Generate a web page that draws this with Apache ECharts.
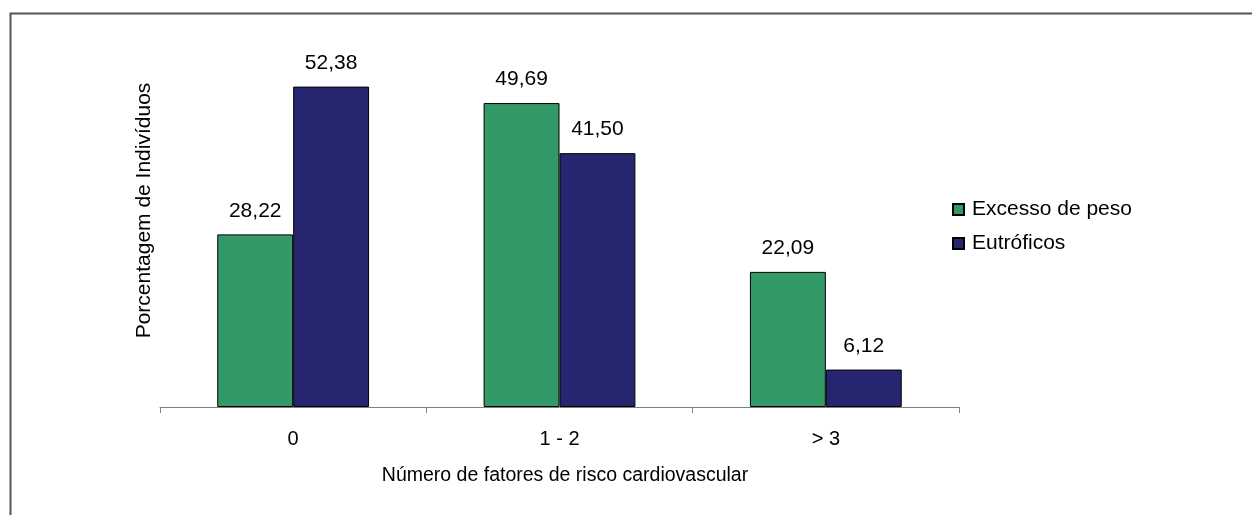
<!DOCTYPE html>
<html>
<head>
<meta charset="utf-8">
<script src="https://cdn.jsdelivr.net/npm/echarts@6/dist/echarts.min.js"></script>
<style>
  html, body { margin: 0; padding: 0; background: #fff; }
  #chart { width: 1252px; height: 515px; }
</style>
</head>
<body>
<div id="chart"></div>
<script>
// Categories and series values
const categories = ['0', '1 - 2', '> 3'];
const excessoPeso = [28.22, 49.69, 22.09];
const eutroficos = [52.38, 41.50, 6.12];
const seriesNames = ['Excesso de peso', 'Eutróficos'];

const FONT = 'Liberation Sans, Arial, sans-serif';
const fmt = p => p.value.toFixed(2).replace('.', ',');

const chart = echarts.init(document.getElementById('chart'));

const barLabel = {
  show: true,
  position: 'top',
  distance: 13,
  color: '#000',
  fontFamily: FONT,
  fontSize: 21,
  formatter: fmt
};

chart.setOption({
  backgroundColor: '#fff',
  animation: false,
  graphic: [{
    type: 'rect',
    left: 8, top: 11,
    shape: { width: 1300, height: 600 },
    style: { fill: 'none', stroke: '#555', lineWidth: 2 },
    z: -1
  }],
  legend: {
    orient: 'vertical',
    left: 947,
    top: 194,
    itemWidth: 11,
    itemHeight: 11,
    itemGap: 13,
    icon: 'rect',
    textStyle: { fontFamily: FONT, fontSize: 21, color: '#000', padding: [0, 0, 0, 3] },
    data: seriesNames
  },
  grid: { left: 160, right: 293, top: 40, bottom: 108 },
  xAxis: {
    type: 'category',
    data: categories,
    axisLine: { lineStyle: { color: '#808080', width: 1 } },
    axisTick: { show: true, length: 6, alignWithLabel: false, lineStyle: { color: '#808080' } },
    axisLabel: { color: '#000', fontFamily: FONT, fontSize: 20, margin: 22 },
    name: 'Número de fatores de risco cardiovascular',
    nameLocation: 'middle',
    nameGap: 59,
    nameTextStyle: { color: '#000', fontFamily: FONT, fontSize: 19.5, padding: [0, 0, 0, 11] }
  },
  yAxis: {
    type: 'value',
    min: 0,
    max: 60,
    axisLine: { show: false },
    axisTick: { show: false },
    axisLabel: { show: false },
    splitLine: { show: false },
    name: 'Porcentagem de Indivíduos',
    nameLocation: 'middle',
    nameGap: 5,
    nameTextStyle: { color: '#000', fontFamily: FONT, fontSize: 21, padding: [0, 0, 0, 26] }
  },
  series: [
    {
      name: seriesNames[0],
      type: 'bar',
      data: excessoPeso,
      barGap: '0%',
      barCategoryGap: '43%',
      itemStyle: { color: '#339966', borderColor: '#000', borderWidth: 1 },
      label: barLabel
    },
    {
      name: seriesNames[1],
      type: 'bar',
      data: eutroficos,
      itemStyle: { color: '#262670', borderColor: '#000', borderWidth: 1 },
      label: barLabel
    }
  ]
});
</script>
</body>
</html>
